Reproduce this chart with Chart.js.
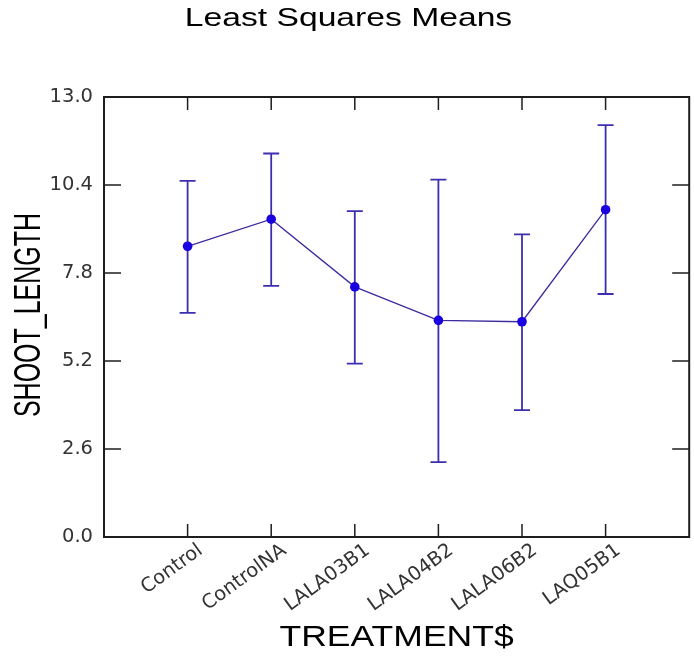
<!DOCTYPE html>
<html>
<head>
<meta charset="utf-8">
<script src="https://cdn.jsdelivr.net/npm/chart.js@4/dist/chart.umd.min.js"></script>
<style>
  html, body { margin: 0; padding: 0; background: #ffffff; }
  #wrap { width: 694px; height: 659px; }
</style>
</head>
<body>
<div id="wrap"><canvas id="lsm" width="694" height="659"></canvas></div>
<script>
// Least squares means of shoot length per treatment, with interval bounds
const treatments = ['Control', 'ControlNA', 'LALA03B1', 'LALA04B2', 'LALA06B2', 'LAQ05B1'];
const lsMeans    = [8.59, 9.39, 7.39, 6.40, 6.36, 9.67];
const ciLower    = [6.62, 7.42, 5.12, 2.21, 3.75, 7.18];
const ciUpper    = [10.52, 11.33, 9.63, 10.56, 8.94, 12.17];
const yTickValues = [0.0, 2.6, 5.2, 7.8, 10.4, 13.0];

const chartTitle = 'Least Squares Means';
const xAxisTitle = 'TREATMENT$';
const yAxisTitle = 'SHOOT_LENGTH';

const LINE_COLOR = '#3a2c9e';
const BAR_COLOR = '#3b2fb0';
const POINT_COLOR = '#1a00e0';
const FRAME_COLOR = '#1e1e1e';
const TICK_FONT = { family: '"DejaVu Sans", sans-serif', size: 19.5 };

// Text drawn with a horizontal stretch (wide plotting-package lettering)
function wideText(ctx, text, x, y, size, stretch, rotate) {
  ctx.save();
  ctx.translate(x, y);
  if (rotate) {
    ctx.rotate(-Math.PI / 2);
    ctx.scale(1, stretch);
  } else {
    ctx.scale(stretch, 1);
  }
  ctx.font = size + 'px "Liberation Sans", Arial, sans-serif';
  ctx.fillStyle = '#000000';
  ctx.textAlign = 'center';
  ctx.textBaseline = 'alphabetic';
  ctx.fillText(text, 0, 0);
  ctx.restore();
}

// Closed frame with inward tick marks on all four sides
const framePlugin = {
  id: 'frame',
  beforeDatasetsDraw(chart) {
    const { ctx, chartArea: a, scales: { x, y } } = chart;
    ctx.save();
    ctx.strokeStyle = FRAME_COLOR;
    ctx.lineWidth = 2;
    ctx.strokeRect(a.left, a.top, a.right - a.left, a.bottom - a.top);
    ctx.lineWidth = 1.5;
    ctx.beginPath();
    yTickValues.forEach(v => {
      const py = y.getPixelForValue(v);
      ctx.moveTo(a.left, py);  ctx.lineTo(a.left + 17, py);
      ctx.moveTo(a.right, py); ctx.lineTo(a.right - 17, py);
    });
    treatments.forEach((_, i) => {
      const px = x.getPixelForValue(i + 1);
      ctx.moveTo(px, a.top);    ctx.lineTo(px, a.top + 13);
      ctx.moveTo(px, a.bottom); ctx.lineTo(px, a.bottom - 13);
    });
    ctx.stroke();
    ctx.restore();
  }
};

// Vertical interval bars with caps
const errorBarPlugin = {
  id: 'errorBars',
  beforeDatasetsDraw(chart) {
    const { ctx, scales: { x, y } } = chart;
    ctx.save();
    ctx.strokeStyle = BAR_COLOR;
    ctx.lineWidth = 1.8;
    ctx.beginPath();
    treatments.forEach((_, i) => {
      const px = x.getPixelForValue(i + 1);
      const lo = y.getPixelForValue(ciLower[i]);
      const hi = y.getPixelForValue(ciUpper[i]);
      ctx.moveTo(px, lo); ctx.lineTo(px, hi);
      ctx.moveTo(px - 8, lo); ctx.lineTo(px + 8, lo);
      ctx.moveTo(px - 8, hi); ctx.lineTo(px + 8, hi);
    });
    ctx.stroke();
    ctx.restore();
  }
};

// Chart title and axis titles
const titlesPlugin = {
  id: 'titles',
  afterDraw(chart) {
    const { ctx, chartArea: a } = chart;
    wideText(ctx, chartTitle, 348.5, 26, 26.5, 1.27, false);
    wideText(ctx, xAxisTitle, (a.left + a.right) / 2, 646, 29, 1.225, false);
    wideText(ctx, yAxisTitle, 40, (a.top + a.bottom) / 2 - 2, 25, 1.5, true);
  }
};

new Chart(document.getElementById('lsm'), {
  type: 'line',
  data: {
    datasets: [{
      data: lsMeans.map((m, i) => ({ x: i + 1, y: m })),
      borderColor: LINE_COLOR,
      borderWidth: 1.3,
      pointRadius: 4.8,
      pointHoverRadius: 4.8,
      pointBackgroundColor: POINT_COLOR,
      pointBorderWidth: 0,
      tension: 0,
      fill: false
    }]
  },
  options: {
    responsive: false,
    animation: false,
    devicePixelRatio: 1,
    layout: { padding: { top: 97, right: 3, left: 0, bottom: 0 } },
    plugins: {
      legend: { display: false },
      tooltip: { enabled: false },
      title: { display: false }
    },
    scales: {
      x: {
        type: 'linear',
        min: 0,
        max: 7,
        grid: { display: false, drawTicks: false },
        border: { display: false },
        afterBuildTicks: s => { s.ticks = treatments.map((_, i) => ({ value: i + 1 })); },
        afterFit: s => { s.height = 122; },
        ticks: {
          autoSkip: false,
          minRotation: 36,
          maxRotation: 36,
          padding: 2,
          labelOffset: 13,
          color: '#333333',
          font: TICK_FONT,
          callback: v => treatments[Math.round(v) - 1]
        }
      },
      y: {
        type: 'linear',
        min: 0,
        max: 13,
        grid: { display: false, drawTicks: false },
        border: { display: false },
        afterBuildTicks: s => { s.ticks = yTickValues.map(v => ({ value: v })); },
        afterFit: s => { s.width = 104; },
        ticks: {
          padding: 11,
          color: '#333333',
          font: TICK_FONT,
          callback: v => Number(v).toFixed(1)
        }
      }
    }
  },
  plugins: [framePlugin, errorBarPlugin, titlesPlugin]
});
</script>
</body>
</html>
